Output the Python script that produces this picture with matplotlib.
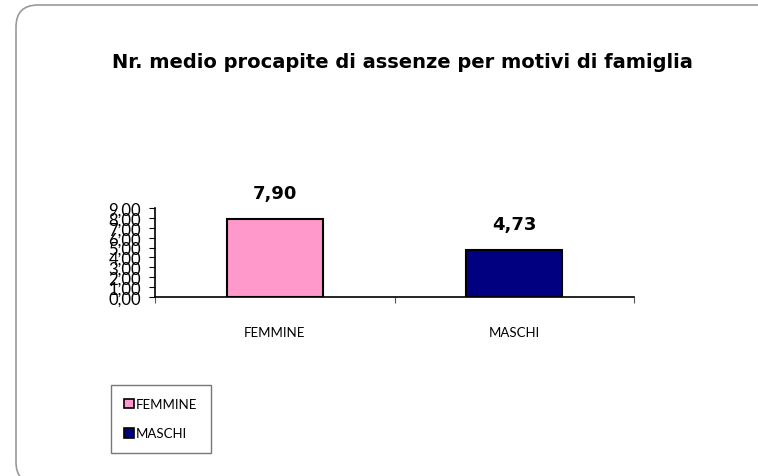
import matplotlib
matplotlib.use("Agg")
import matplotlib.pyplot as plt
from matplotlib.patches import FancyBboxPatch, Rectangle
from matplotlib.transforms import IdentityTransform

categories = ["FEMMINE", "MASCHI"]
values = [7.90, 4.73]
colors = ["#FF99CC", "#000080"]
value_labels = ["7,90", "4,73"]
yticks = [0, 1, 2, 3, 4, 5, 6, 7, 8, 9]
ytick_labels = ["0,00", "1,00", "2,00", "3,00", "4,00", "5,00", "6,00", "7,00", "8,00", "9,00"]
title = "Nr. medio procapite di assenze per motivi di famiglia"

plt.rcParams['font.family'] = ['Lato', 'DejaVu Sans']

fig = plt.figure(figsize=(7.58, 4.77), dpi=100)
W, H = 758, 477

# rounded outer frame (pixel coordinates, origin bottom-left)
frame = FancyBboxPatch((16, -8), 800, H - 6 + 8,
                       boxstyle="round,pad=0,rounding_size=22",
                       transform=IdentityTransform(), fill=False,
                       edgecolor="#999999", linewidth=1.2)
fig.patches.append(frame)

fig.text(402 / W, 1 - 62 / H, title, ha="center", va="center",
         fontsize=14, fontweight="bold", color="black",
         family=["DejaVu Sans"])

ax = fig.add_axes([155 / W, 1 - 298 / H, 479 / W, 89 / H])
x = list(range(len(categories)))
ax.bar(x, values, width=0.4, color=colors, edgecolor="black", linewidth=1.5, zorder=3)
for xi, v, lab in zip(x, values, value_labels):
    ax.annotate(lab, (xi, v), xytext=(0, 26), textcoords="offset pixels",
                ha="center", va="center", fontsize=13, fontweight="bold",
                family=["DejaVu Sans"])

ax.set_xlim(-0.5, 1.5)
ax.set_ylim(0, 9)
ax.set_yticks(yticks)
ax.set_yticklabels(ytick_labels, fontsize=12)
ax.set_xticks([-0.5, 0.5, 1.5])
ax.set_xticklabels([])
ax.set_xticks(x, minor=True)
ax.set_xticklabels(categories, minor=True, fontsize=9.5)
ax.tick_params(axis="x", which="minor", length=0, pad=21)
ax.tick_params(axis="x", which="major", length=4, direction="out", color="#555555")
ax.tick_params(axis="y", length=4, direction="out", pad=6)
for s in ["top", "right"]:
    ax.spines[s].set_visible(False)
ax.spines["left"].set_linewidth(1.2)
ax.spines["bottom"].set_linewidth(1.2)

# legend
handles = [Rectangle((0, 0), 1, 1, facecolor=c, edgecolor="black", linewidth=1.2) for c in colors]
leg = fig.legend(handles, categories, loc="upper left",
                 bbox_to_anchor=(111 / W, 1 - 386 / H), fontsize=9.5,
                 frameon=True, fancybox=False, edgecolor="#555555",
                 handlelength=0.75, handleheight=0.75, handletextpad=0.15,
                 labelspacing=1.3, borderpad=1.0, borderaxespad=0)
leg.get_frame().set_linewidth(1.0)

fig.savefig("out.png", dpi=100)
